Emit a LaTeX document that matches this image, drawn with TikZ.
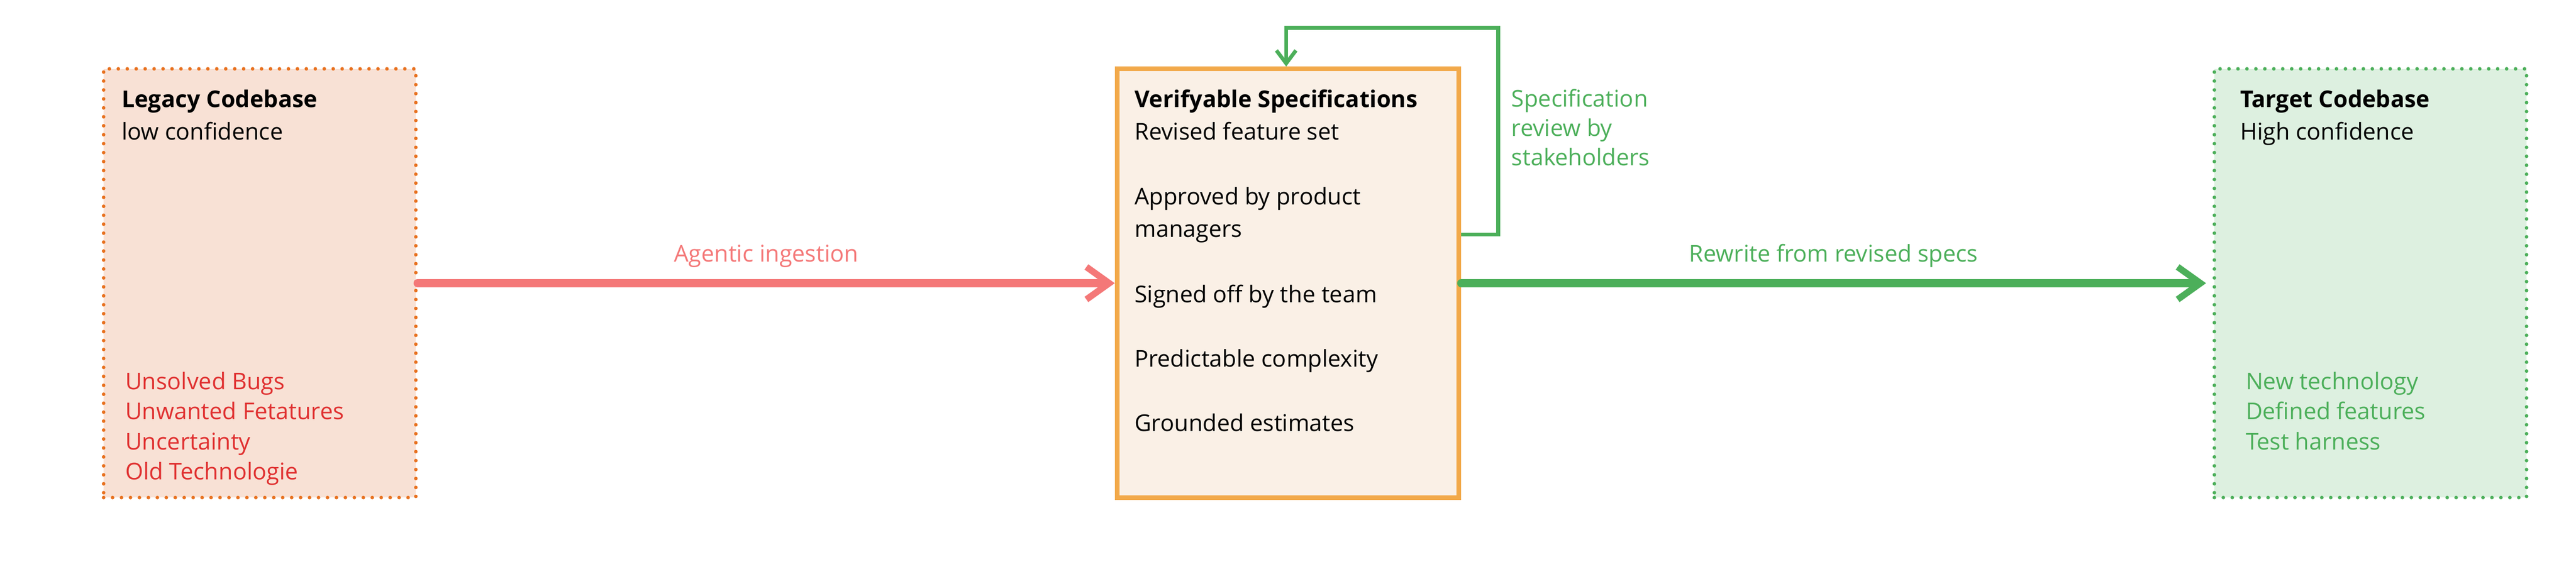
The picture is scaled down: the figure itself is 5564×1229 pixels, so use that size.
\documentclass[tikz,border=0pt]{standalone}
\usepackage{fontspec}
\setmainfont{Open Sans}
\usetikzlibrary{arrows.meta,positioning}
\definecolor{legacyfill}{HTML}{F8E1D5}
\definecolor{legacyline}{HTML}{E8711F}
\definecolor{badred}{HTML}{E03030}
\definecolor{ingestred}{HTML}{F47878}
\definecolor{specline}{HTML}{F2A94A}
\definecolor{specfill}{HTML}{FAF0E6}
\definecolor{goodgreen}{HTML}{4CAF5A}
\definecolor{targetfill}{HTML}{DDF0E0}
\begin{document}
\begin{tikzpicture}[x=0.01cm, y=-0.01cm]

% Stile
\tikzset{
  box/.style = {rectangle, minimum width=6.74cm, minimum height=9.26cm, inner sep=0pt},
  legacybox/.style = {box, fill=legacyfill, draw=legacyline, line width=2.2pt, dash pattern=on 0pt off 5.5pt, line cap=round},
  specbox/.style = {box, minimum width=7.38cm, fill=specfill, draw=specline, line width=2.8pt},
  targetbox/.style = {box, fill=targetfill, draw=goodgreen, line width=2.2pt, dash pattern=on 0pt off 5.5pt, line cap=round},
  txt/.style = {anchor=base west, inner sep=0pt, font=\fontsize{14.2}{18}\selectfont},
  title/.style = {txt, font=\fontsize{14.2}{18}\selectfont\bfseries},
  bad/.style = {txt, text=badred},
  good/.style = {txt, text=goodgreen},
  bigarrow/.style = {line width=5pt, line cap=round, -{Straight Barb[length=14pt,width=20pt,line width=4pt]}},
  loop/.style = {line width=2.3pt, goodgreen, -{Straight Barb[length=8pt,width=12pt,line width=2.3pt]}}
}
\useasboundingbox (0,0) rectangle (5564,1229);

% Kästen
\node (legacy) [legacybox] at (561,612) {};
\node (spec) [specbox] at (2782,612) {};
\node (target) [targetbox] at (5120,612) {};

% Texte links
\node (legacyT) [title] at (262,232) {Legacy Codebase};
\node (legacyS) [txt] at (262,302) {low confidence};
\node (bug) [bad] at (270,842) {Unsolved Bugs};
\node (feat) [bad] at (270,906) {Unwanted Fetatures};
\node (unc) [bad] at (270,972) {Uncertainty};
\node (old) [bad] at (270,1036) {Old Technologie};

% Texte Mitte
\node (specT) [title] at (2450,232) {Verifyable Specifications};
\node (rev) [txt] at (2450,302) {Revised feature set};
\node (appr) [txt] at (2450,442) {Approved by product};
\node (mgr) [txt] at (2450,512) {managers};
\node (sign) [txt] at (2450,654) {Signed off by the team};
\node (pred) [txt] at (2450,793) {Predictable complexity};
\node (est) [txt] at (2450,932) {Grounded estimates};

% Texte rechts
\node (targetT) [title] at (4838,232) {Target Codebase};
\node (targetS) [txt] at (4838,302) {High confidence};
\node (tech) [good] at (4850,842) {New technology};
\node (def) [good] at (4850,906) {Defined features};
\node (test) [good] at (4850,972) {Test harness};

% Pfeile
\coordinate (loopA) at (3236,507);
\coordinate (loopB) at (3236,60);
\coordinate (loopC) at (2778,60);
\draw [loop] (spec.east |- loopA) -- (loopA) -- (loopB) -- (loopC) -- (loopC |- spec.north);
\node (review) [good, align=left, anchor=north west, font=\fontsize{14.2}{18}\selectfont] at (3264,192) {Specification\\review by\\stakeholders};

\draw [bigarrow, ingestred] (legacy.east) -- node[above=4pt, text=ingestred, font=\fontsize{14.2}{18}\selectfont] {Agentic ingestion} (spec.west);
\draw [bigarrow, goodgreen] (spec.east) -- node[above=4pt, text=goodgreen, font=\fontsize{14.2}{18}\selectfont] {Rewrite from revised specs} ([xshift=-4pt]target.west);
\end{tikzpicture}
\end{document}
